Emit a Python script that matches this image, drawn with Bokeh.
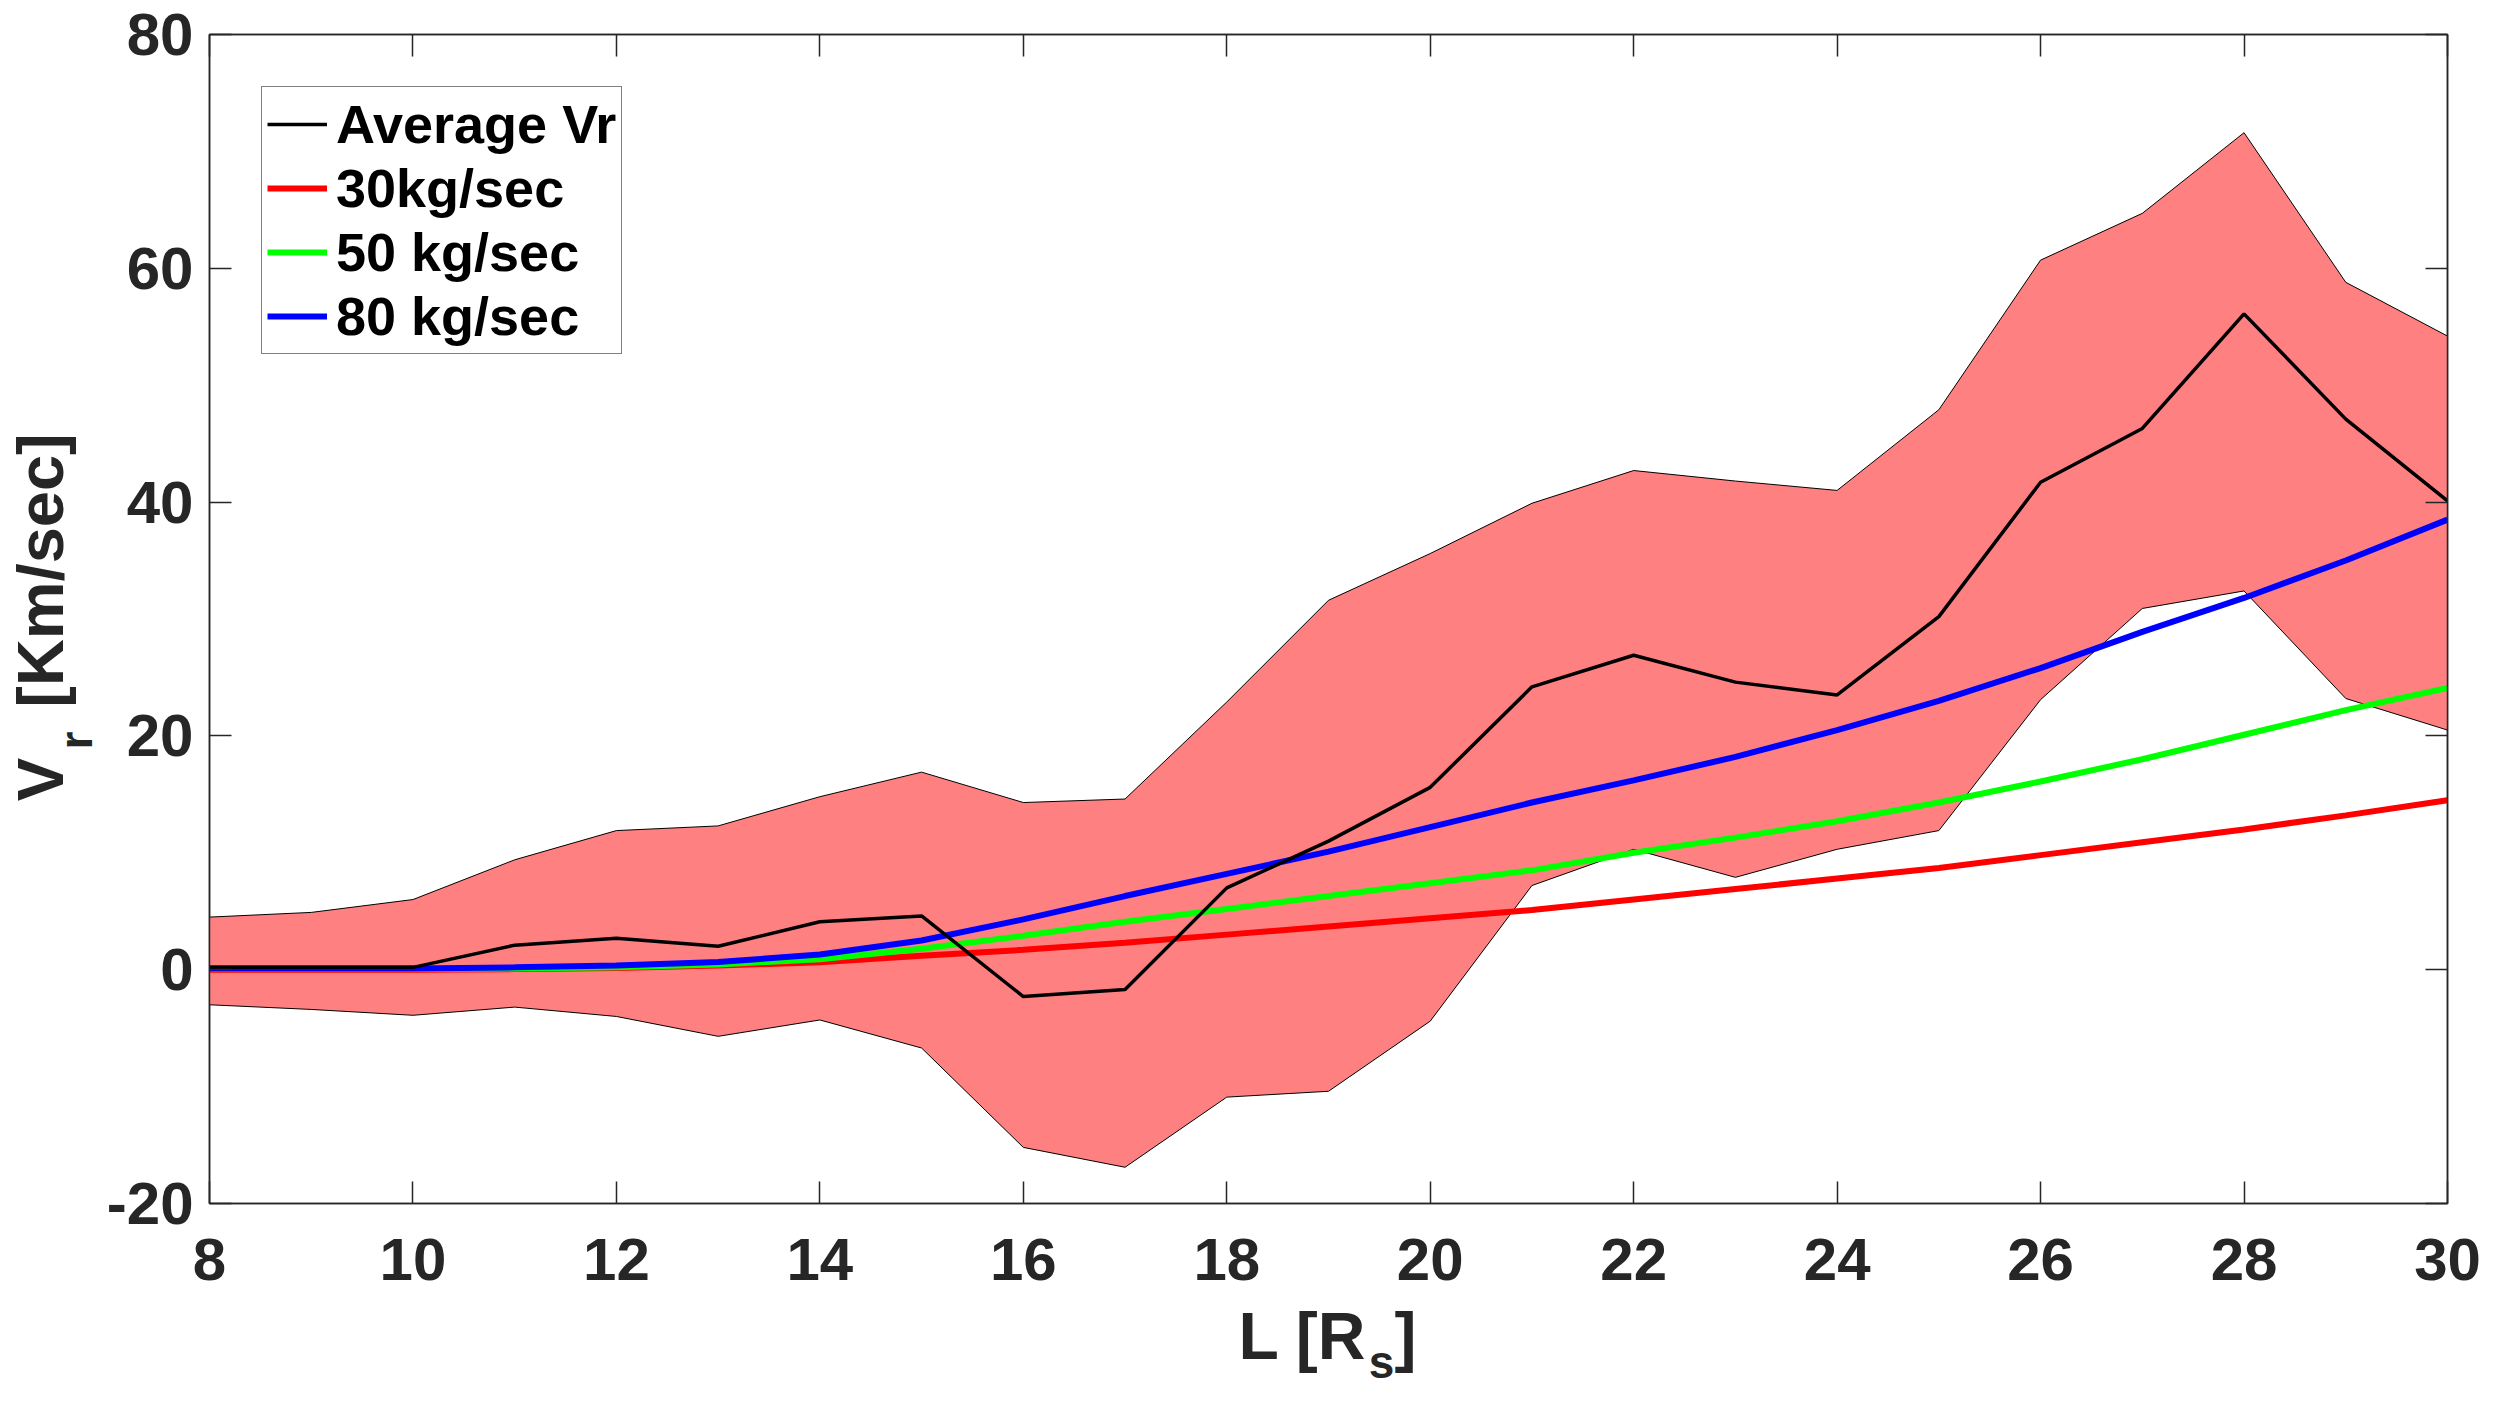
from bokeh.plotting import figure
from bokeh.models import Range1d, LinearAxis, FixedTicker, Legend, LegendItem
from bokeh.embed import file_html
from bokeh.resources import INLINE

# ---------------- data ----------------
L = [8, 9, 10, 11, 12, 13, 14, 15, 16, 17, 18, 19, 20, 21, 22, 23, 24, 25, 26, 27, 28, 29, 30]
vr_mean = [0.2, 0.2, 0.2, 2.1, 2.7, 2.0, 4.1, 4.6, -2.3, -1.7, 7.0, 11.0, 15.6, 24.2, 26.9,
           24.6, 23.5, 30.2, 41.7, 46.3, 56.1, 47.1, 40.1]
vr_upper = [4.5, 4.9, 6.0, 9.4, 11.9, 12.3, 14.8, 16.9, 14.3, 14.6, 22.9, 31.6, 35.6, 39.9, 42.7,
            41.8, 41.0, 47.9, 60.7, 64.7, 71.6, 58.8, 54.2]
vr_lower = [-3.0, -3.4, -3.9, -3.2, -4.0, -5.7, -4.3, -6.7, -15.2, -16.9, -10.9, -10.4, -4.4, 7.2, 10.3,
            7.9, 10.3, 11.9, 23.1, 30.9, 32.4, 23.2, 20.5]
model_30 = [0.0, 0.0, 0.0, 0.05, 0.15, 0.35, 0.64, 1.2, 1.7, 2.3, 3.0, 3.7, 4.4, 5.1, 6.0,
            6.9, 7.8, 8.7, 9.8, 10.9, 12.0, 13.2, 14.5]
model_50 = [0.05, 0.05, 0.05, 0.1, 0.2, 0.45, 0.9, 1.8, 2.9, 4.1, 5.2, 6.3, 7.4, 8.5, 10.0,
            11.3, 12.7, 14.3, 16.1, 18.0, 20.1, 22.2, 24.1]
model_80 = [0.1, 0.1, 0.1, 0.2, 0.35, 0.65, 1.3, 2.5, 4.3, 6.3, 8.2, 10.1, 12.2, 14.3, 16.2,
            18.2, 20.5, 23.0, 25.8, 28.9, 31.8, 35.0, 38.5]
series_names = ["Average Vr", "30kg/sec", "50 kg/sec", "80 kg/sec"]
x_ticks = [8, 10, 12, 14, 16, 18, 20, 22, 24, 26, 28, 30]
y_ticks = [-20, 0, 20, 40, 60, 80]
y_tick_text = {-20: "-20"}
x_title_main = "L [R"
x_title_sub = "s"
x_title_end = "]"
y_title_main = "V"
y_title_sub = "r"
y_title_end = "[Km/sec]"

FONT = "Liberation Sans"
AX = "#262626"

# page-pixel geometry of the plotting frame
FR_L, FR_R, FR_T, FR_B = 215, 2455, 42, 1211
X0, X1, Y0, Y1 = 8, 30, -20, 80

def xd(px):
    return X0 + (px - FR_L) * (X1 - X0) / (FR_R - FR_L)

def yd(py):
    return Y0 + (FR_B - py) * (Y1 - Y0) / (FR_B - FR_T)

p = figure(width=2483, height=1390, x_range=Range1d(X0, X1), y_range=Range1d(Y0, Y1),
           output_backend="svg", toolbar_location=None,
           min_border_left=FR_L - 8, min_border_right=36, min_border_top=FR_T - 8,
           min_border_bottom=1390 - (FR_B - 8),
           background_fill_color="white", border_fill_color="white")
p.grid.visible = False
p.outline_line_color = AX
p.outline_line_width = 1.5

def style_axis(ax, ticks, labels=True):
    ax.ticker = FixedTicker(ticks=ticks)
    ax.axis_line_color = AX
    ax.axis_line_width = 1.5
    ax.major_tick_line_color = AX
    ax.major_tick_line_width = 1.5
    ax.major_tick_in = 22
    ax.major_tick_out = 0
    ax.minor_tick_line_color = None
    ax.axis_label = None
    if labels:
        ax.major_label_text_font = FONT
        ax.major_label_text_font_style = "bold"
        ax.major_label_text_font_size = "60px"
        ax.major_label_text_color = AX
    else:
        ax.major_label_text_font_size = "1px"
        ax.major_label_text_color = None
        ax.major_label_standoff = 0

style_axis(p.xaxis[0], x_ticks)
style_axis(p.yaxis[0], y_ticks)
p.xaxis[0].major_label_standoff = 35
p.yaxis[0].major_label_standoff = 16
p.yaxis[0].major_label_overrides = y_tick_text

top_ax = LinearAxis()
right_ax = LinearAxis()
style_axis(top_ax, x_ticks, labels=False)
style_axis(right_ax, y_ticks, labels=False)
p.add_layout(top_ax, "above")
p.add_layout(right_ax, "right")

# axis titles built from tick labels of extra, line-less axes (keeps sub-scripts as real text)
def title_axis(place, positions, texts, size, standoff, orientation=None):
    ax = LinearAxis()
    ax.ticker = FixedTicker(ticks=positions)
    ax.major_label_overrides = {pos: t for pos, t in zip(positions, texts)}
    ax.axis_line_color = None
    ax.major_tick_line_color = None
    ax.minor_tick_line_color = None
    ax.major_tick_in = 0
    ax.major_tick_out = 0
    ax.major_label_standoff = standoff
    ax.major_label_text_font = FONT
    ax.major_label_text_font_style = "bold"
    ax.major_label_text_font_size = size
    ax.major_label_text_color = AX
    if orientation is not None:
        ax.major_label_orientation = orientation
    p.add_layout(ax, place)
    return ax

# y title: main text next to the tick labels, subscript pulled back inside it
title_axis("left", [yd(787), yd(578)], [y_title_main, y_title_end], "65px", 27, "vertical")
title_axis("left", [yd(748)], [y_title_sub], "46px", -101, "vertical")
# x title: main text first, subscript below it
title_axis("below", [xd(1309), xd(1412)], [x_title_main, x_title_end], "66px", 16)
title_axis("below", [xd(1388)], [x_title_sub], "46px", -40)

# band
band_x = L + L[::-1]
band_y = vr_upper + vr_lower[::-1]
p.patch(band_x, band_y, fill_color="#FF8080", fill_alpha=1.0, line_color="black", line_width=1)

r30 = p.line(L, model_30, line_color="#FF0000", line_width=6)
r50 = p.line(L, model_50, line_color="#00FF00", line_width=6)
r80 = p.line(L, model_80, line_color="#0000FF", line_width=6)
rmean = p.line(L, vr_mean, line_color="black", line_width=3.5)

legend = Legend(items=[LegendItem(label=series_names[0], renderers=[rmean]),
                       LegendItem(label=series_names[1], renderers=[r30]),
                       LegendItem(label=series_names[2], renderers=[r50]),
                       LegendItem(label=series_names[3], renderers=[r80])],
                location=(52, 849), margin=0, padding=5, spacing=0,
                glyph_width=60, glyph_height=64, label_height=64, label_standoff=9,
                label_text_font=FONT, label_text_font_style="bold", label_text_font_size="54px",
                label_text_color="black", border_line_color="black", border_line_width=1.5,
                background_fill_color="white", background_fill_alpha=1.0)
p.add_layout(legend)

open("out.html", "w").write(file_html(p, INLINE))
